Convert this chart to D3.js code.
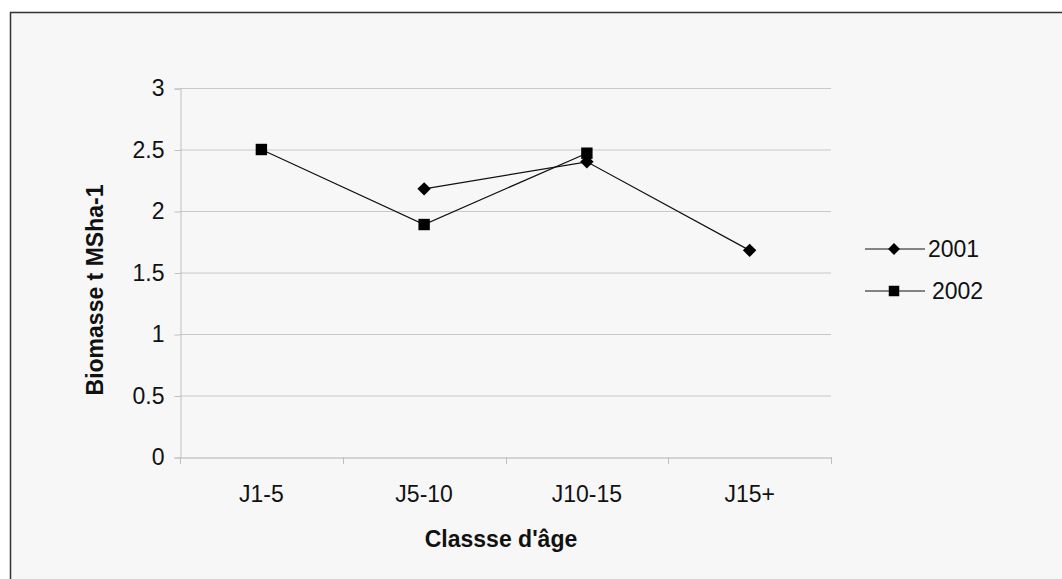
<!DOCTYPE html>
<html>
<head>
<meta charset="utf-8">
<script src="https://cdn.jsdelivr.net/npm/d3@7"></script>
<style>
  html, body { margin: 0; padding: 0; background: #ffffff; }
  svg { display: block; font-family: "Liberation Sans", Arial, sans-serif; }
</style>
</head>
<body>
<svg id="chart" width="1062" height="579"></svg>
<script>
const categories = ["J1-5", "J5-10", "J10-15", "J15+"];
const series2001 = [null, 2.18, 2.40, 1.68];
const series2002 = [2.50, 1.89, 2.47, null];
const yTicks = [0, 0.5, 1, 1.5, 2, 2.5, 3];
const seriesNames = ["2001", "2002"];

const FONT = "Liberation Sans, Arial, sans-serif";
const svg = d3.select("#chart");
// background panel with border
svg.append("rect").attr("x", 10.5).attr("y", 12.5).attr("width", 1070).attr("height", 600)
  .attr("fill", "#f7f7f7").attr("stroke", "#333").attr("stroke-width", 1.5);

const plotLeft = 180, plotRight = 831, plotTop = 88, plotBottom = 457;
const x = d3.scaleBand().domain(categories).range([plotLeft, plotRight]);
const y = d3.scaleLinear().domain([0, 3]).range([plotBottom, plotTop]);

// gridlines
svg.append("g").selectAll("line").data(yTicks.filter(d => d > 0)).join("line")
  .attr("x1", plotLeft).attr("x2", plotRight)
  .attr("y1", d => y(d) + 0.5).attr("y2", d => y(d) + 0.5)
  .attr("stroke", "#c8c8c8").attr("stroke-width", 1);

// y axis
const yAxis = svg.append("g").attr("transform", `translate(${plotLeft + 0.5},0.5)`)
  .call(d3.axisLeft(y).tickValues(yTicks).tickSize(6).tickPadding(10).tickFormat(d3.format("")));
yAxis.attr("font-size", 23).attr("font-family", FONT);
yAxis.select(".domain").attr("stroke", "#c0c0c0");
yAxis.selectAll(".tick line").attr("stroke", "#c0c0c0");
yAxis.selectAll("text").attr("fill", "#111");

// x axis
const xAxis = svg.append("g").attr("transform", `translate(0,${plotBottom + 0.5})`)
  .call(d3.axisBottom(x).tickSize(0).tickPadding(28));
xAxis.attr("font-size", 23).attr("font-family", FONT);
xAxis.select(".domain").attr("stroke", "#c8c8c8").attr("stroke-width", 1.5);
xAxis.selectAll("text").attr("fill", "#111");
// category boundary ticks
const bounds = categories.map(c => x(c)).concat([x(categories[categories.length - 1]) + x.bandwidth()]);
svg.append("g").selectAll("line").data(bounds).join("line")
  .attr("x1", d => Math.round(d) + 0.5).attr("x2", d => Math.round(d) + 0.5)
  .attr("y1", plotBottom).attr("y2", plotBottom + 7)
  .attr("stroke", "#c0c0c0");

const cx = c => x(c) + x.bandwidth() / 2;

function drawSeries(values, shape) {
  const pts = values.map((v, i) => ({ c: categories[i], v })).filter(d => d.v !== null);
  svg.append("path").datum(pts)
    .attr("fill", "none").attr("stroke", "#111").attr("stroke-width", 1.2)
    .attr("d", d3.line().x(d => cx(d.c)).y(d => y(d.v)));
  const sym = d3.symbol().type(d3.symbolSquare)
    .size(shape === "diamond" ? 90 : 130);
  svg.append("g").selectAll("path").data(pts).join("path")
    .attr("d", sym)
    .attr("transform", d => `translate(${cx(d.c)},${y(d.v)})` + (shape === "diamond" ? " rotate(45)" : ""))
    .attr("fill", "#000");
}
drawSeries(series2001, "diamond");
drawSeries(series2002, "square");

// axis titles
svg.append("text").attr("x", 501).attr("y", 547).attr("text-anchor", "middle")
  .attr("font-family", FONT).attr("font-size", 23).attr("font-weight", "bold").attr("fill", "#111").text("Classse d'âge");
svg.append("text").attr("transform", "translate(103,290) rotate(-90)").attr("text-anchor", "middle")
  .attr("font-family", FONT).attr("font-size", 23).attr("font-weight", "bold").attr("fill", "#111").text("Biomasse t MSha-1");

// legend
const legend = svg.append("g");
const legY = [249, 291];
const legTextX = [928, 932];
seriesNames.forEach((name, i) => {
  legend.append("line").attr("x1", 865).attr("x2", 925).attr("y1", legY[i]).attr("y2", legY[i])
    .attr("stroke", "#111").attr("stroke-width", 1.2);
  const sym = d3.symbol().type(d3.symbolSquare).size(i === 0 ? 70 : 110);
  legend.append("path").attr("d", sym)
    .attr("transform", `translate(894,${legY[i]})` + (i === 0 ? " rotate(45)" : ""))
    .attr("fill", "#000");
  legend.append("text").attr("x", legTextX[i]).attr("y", legY[i]).attr("dy", "0.36em")
    .attr("font-family", FONT).attr("font-size", 23).attr("fill", "#111").text(name);
});
</script>
</body>
</html>
